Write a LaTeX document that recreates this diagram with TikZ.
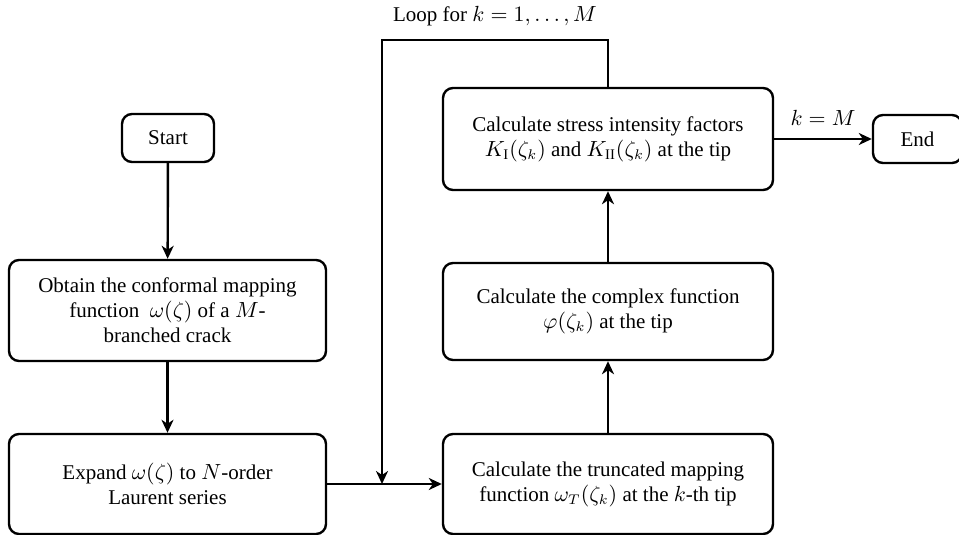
\documentclass[tikz,border=0pt]{standalone}
\usepackage{amsmath}
\usepackage{fontspec}
\setmainfont{Liberation Serif}
\usetikzlibrary{arrows.meta}

\begin{document}
\begin{tikzpicture}[x=0.5pt, y=-0.5pt,
  stepbox/.style={draw, line width=1.2pt, rounded corners=5pt, align=center,
    font=\fontsize{10.5}{12.5}\selectfont, inner sep=2pt},
  flow/.style={line width=1.2pt, -{Stealth[length=6.5pt, width=6pt, inset=2pt]}}]
\useasboundingbox (0,0) rectangle (959,535);
% -- Left column --
\node[stepbox, minimum width=46pt, minimum height=24pt] (start) at (168,138) {Start};
\node[stepbox, minimum width=158.5pt, minimum height=50.5pt] (obtain) at (167.5,310.5)
  {Obtain the conformal mapping\\function\ \ $\omega(\zeta)$ of a $M$-\\branched crack};
\node[stepbox, minimum width=158.5pt, minimum height=50pt] (expand) at (167.5,484)
  {Expand $\omega(\zeta)$ to $N$-order\\Laurent series};
% -- Right column --
\node[stepbox, minimum width=165pt, minimum height=50pt] (trunc) at (608,484)
  {Calculate the truncated mapping\\function $\omega_T(\zeta_k)$ at the $k$-th tip};
\node[stepbox, minimum width=165pt, minimum height=48.5pt] (cplx) at (608,311.5)
  {Calculate the complex function\\$\varphi(\zeta_k)$ at the tip};
\node[stepbox, minimum width=165pt, minimum height=51pt] (sif) at (608,139)
  {Calculate stress intensity factors\\$K_{\mathrm{I}}(\zeta_k)$ and $K_{\mathrm{II}}(\zeta_k)$ at the tip};
\node[stepbox, minimum width=44.5pt, minimum height=24pt] (endn) at (917.5,139) {End};
% Connectors
\draw[flow] (start) -- (obtain);
\draw[flow] (obtain) -- (expand);
\draw[flow] (expand) -- (trunc);
\draw[flow] (trunc) -- (cplx);
\draw[flow] (cplx) -- (sif);
\draw[flow] (sif) -- node[above, font=\fontsize{10.5}{12.5}\selectfont, pos=0.5, yshift=3pt] {$k = M$} (endn);
% Loop back
\coordinate (loopc) at (382,40);
\coordinate (merge) at (382,484);
\draw[flow] (sif.north) |- (loopc) -- (merge);
\node[font=\fontsize{10.5}{12.5}\selectfont] (looplbl) at (495,16) {Loop for $k = 1, \ldots, M$};
\end{tikzpicture}
\end{document}
